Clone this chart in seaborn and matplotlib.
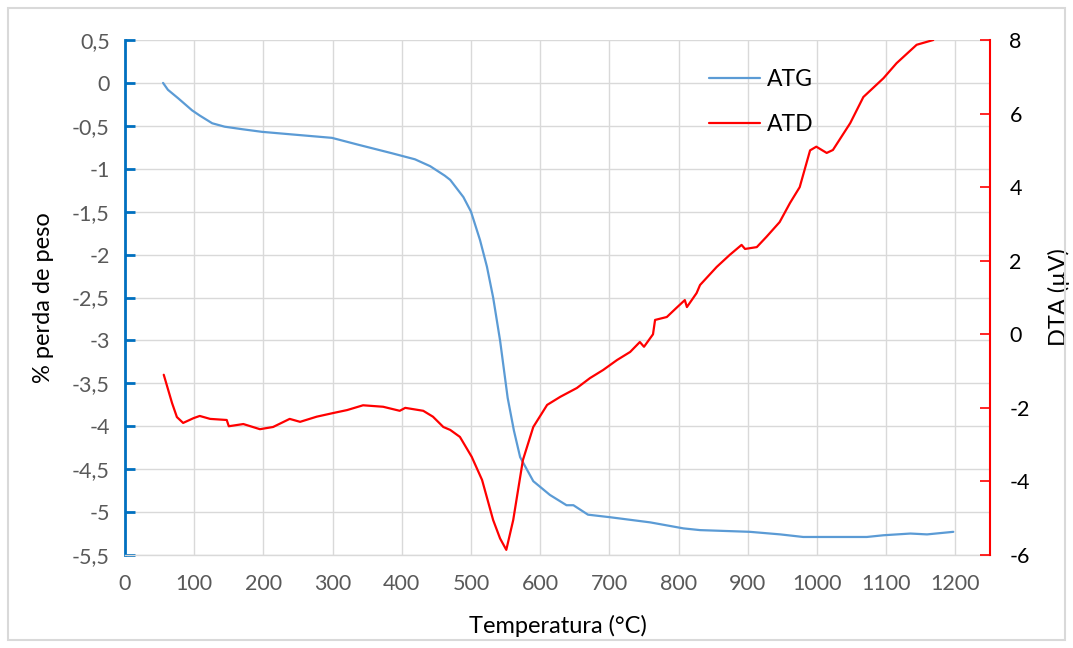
import matplotlib
matplotlib.use("Agg")
import matplotlib.pyplot as plt
import seaborn as sns
import pandas as pd
from matplotlib.patches import Rectangle
from matplotlib.ticker import FuncFormatter

# ATG (% perda de peso) - left axis
atg_temp = [55, 62, 77, 97, 108, 126, 144, 170, 198, 241, 270, 299, 337, 386, 419, 441, 462,
            470, 489, 500, 513, 523, 532, 542, 553, 562, 571, 590, 614, 638, 648,
            669, 701, 759, 807, 831, 903, 947, 980, 1024, 1072, 1096, 1135, 1159, 1197]
atg_vals = [0, -0.08, -0.18, -0.32, -0.38, -0.47, -0.51, -0.54, -0.57, -0.6, -0.62, -0.64, -0.72,
            -0.82, -0.89, -0.97, -1.08, -1.13, -1.33, -1.5, -1.83, -2.14, -2.5, -3.0,
            -3.67, -4.05, -4.36, -4.64, -4.8, -4.92, -4.92, -5.03, -5.06, -5.12, -5.19,
            -5.21, -5.23, -5.26, -5.29, -5.29, -5.29, -5.27, -5.25, -5.26, -5.23]

# ATD (DTA, µV) - right axis
atd_temp = [56, 68, 75, 84, 99, 108, 123, 147, 150, 171, 195, 214, 238, 253, 277, 301,
            321, 344, 373, 397, 405, 431, 445, 460, 470, 484, 501, 516, 532, 542, 551,
            561, 575, 590, 610, 629, 653, 672, 691, 711, 730, 744, 750, 763, 766, 783,
            797, 809, 812, 826, 831, 855, 874, 891, 896, 913, 927, 946, 961, 975, 990,
            999, 1014, 1023, 1048, 1067, 1096, 1115, 1144, 1168]
atd_vals = [-1.1, -1.87, -2.25, -2.41, -2.28, -2.22, -2.3, -2.33, -2.5, -2.44, -2.58,
            -2.52, -2.3, -2.38, -2.24, -2.14, -2.06, -1.93, -1.97, -2.08, -2.0, -2.08,
            -2.24, -2.52, -2.6, -2.79, -3.33, -3.96, -5.05, -5.55, -5.86, -5.05, -3.42,
            -2.52, -1.92, -1.7, -1.46, -1.19, -0.97, -0.7, -0.48, -0.21, -0.34, 0.0,
            0.39, 0.47, 0.72, 0.93, 0.74, 1.12, 1.34, 1.83, 2.16, 2.43, 2.32, 2.37,
            2.65, 3.05, 3.57, 4.0, 5.0, 5.1, 4.93, 5.01, 5.74, 6.45, 6.96, 7.37, 7.87, 8.0]

x_ticks = list(range(0, 1201, 100))
left_ticks = [0.5, 0, -0.5, -1, -1.5, -2, -2.5, -3, -3.5, -4, -4.5, -5, -5.5]
right_ticks = [8, 6, 4, 2, 0, -2, -4, -6]

sns.set_style("white")
plt.rcParams['font.family'] = ['Lato', 'DejaVu Sans']
plt.rcParams['axes.unicode_minus'] = False

df_atg = pd.DataFrame({"T": atg_temp, "v": atg_vals})
df_atd = pd.DataFrame({"T": atd_temp, "v": atd_vals})

fig = plt.figure(figsize=(10.73, 6.48), dpi=100)
ax = fig.add_axes([125/1073, 1-555/648, (990-125)/1073, (555-40)/648])
ax2 = ax.twinx()

blue = "#5B9BD5"
red = "#FF0000"
grid = "#D9D9D9"
gray = "#595959"

sns.lineplot(data=df_atg, x="T", y="v", ax=ax, color=blue, linewidth=1.6,
             estimator=None, sort=False, label="ATG", legend=False)
sns.lineplot(data=df_atd, x="T", y="v", ax=ax2, color=red, linewidth=1.6,
             estimator=None, sort=False, label="ATD", legend=False)

ax.set_xlim(0, 1250)
ax.set_ylim(-5.5, 0.5)
ax2.set_ylim(-6, 8)
ax.set_xticks(x_ticks)
ax.set_yticks(left_ticks)
ax2.set_yticks(right_ticks)

fmt = FuncFormatter(lambda v, p: ("%g" % v).replace(".", ","))
ax.yaxis.set_major_formatter(fmt)

ax.grid(True, color=grid, linewidth=1)
ax2.grid(False)
ax.set_axisbelow(True)

for a in (ax, ax2):
    for s in a.spines.values():
        s.set_visible(False)
ax.spines['left'].set_visible(True)
ax.spines['left'].set_color("#0070C0")
ax.spines['left'].set_linewidth(2)
ax2.spines['right'].set_visible(True)
ax2.spines['right'].set_color(red)
ax2.spines['right'].set_linewidth(1.5)
ax.spines['bottom'].set_visible(True)
ax.spines['bottom'].set_color(grid)
ax.spines['bottom'].set_linewidth(1)

ax.tick_params(axis='y', direction='in', length=7, width=2, color="#0070C0",
               labelsize=15.5, labelcolor=gray, pad=11)
ax.tick_params(axis='x', length=0, labelsize=15.5, labelcolor=gray, pad=14)
ax2.tick_params(axis='y', direction='in', length=7, width=1.2, color=red,
                labelsize=15.5, labelcolor="black", pad=14)

ax.set_xlabel("Temperatura (°C)", fontsize=17, color="black", labelpad=15)
ax.set_ylabel("% perda de peso", fontsize=17, color="black", labelpad=13)
ax2.set_ylabel("DTA (µV)", fontsize=17, color="black", labelpad=13)

h1, l1 = ax.get_lines()[0], "ATG"
h2, l2 = ax2.get_lines()[0], "ATD"
leg = ax2.legend([h1, h2], [l1, l2], loc="upper left",
                 bbox_to_anchor=((688-125)/865, 1-(48-40)/515),
                 frameon=False, fontsize=16.5, handlelength=2.25,
                 labelspacing=1.05, handletextpad=0.3)
for t in leg.get_texts():
    t.set_color("black")

fig.patches.append(Rectangle((8/1073, 8/648), (1065-8)/1073, (640-8)/648,
                             transform=fig.transFigure, fill=False,
                             edgecolor="#D9D9D9", linewidth=1.5))

fig.savefig("out.png", dpi=100)
